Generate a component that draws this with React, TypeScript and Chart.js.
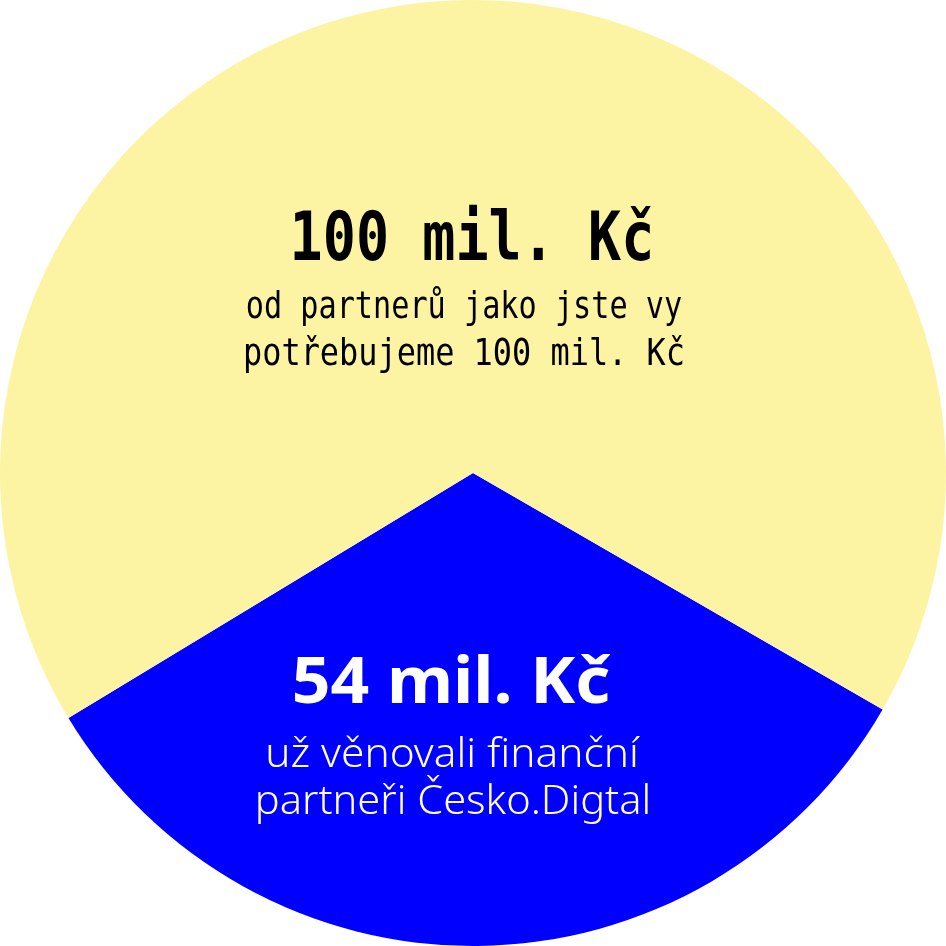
import React, { useEffect, useRef } from "react";
import { Chart, registerables } from "chart.js";

Chart.register(...registerables);

const categories = ["už věnovali finanční partneři", "zbývá získat"];
const values = [33, 67];
const colors = ["#0000ff", "#fdf4a3"];

const yellowTitle = "100 mil. Kč";
const yellowLines = ["od partnerů jako jste vy", "potřebujeme 100 mil. Kč"];
const blueTitle = "54 mil. Kč";
const blueLines = ["už věnovali finanční", "partneři Česko.Digtal"];

type LabelProps = {
  text: string;
  cx: number;
  baseline: number;
  family: string;
  size: number;
  weight: number;
  color: string;
  asc: number;
  desc: number;
  sx: number;
};

function Label(p: LabelProps) {
  const lh = (p.asc + p.desc) * p.size;
  return (
    <div
      style={{
        position: "absolute",
        left: p.cx - 500,
        width: 1000,
        top: p.baseline - p.asc * p.size,
        height: lh,
        lineHeight: lh + "px",
        textAlign: "center",
        fontFamily: p.family,
        fontSize: p.size,
        fontWeight: p.weight,
        color: p.color,
        whiteSpace: "nowrap",
        transform: `scaleX(${p.sx})`,
        transformOrigin: "50% 50%",
        pointerEvents: "none",
      }}
    >
      {p.text}
    </div>
  );
}

export default function App() {
  const ref = useRef<HTMLCanvasElement | null>(null);
  useEffect(() => {
    if (!ref.current) return;
    const chart = new Chart(ref.current, {
      type: "pie",
      data: {
        labels: categories,
        datasets: [
          {
            data: values,
            backgroundColor: colors,
            borderWidth: 0,
          },
        ],
      },
      options: {
        animation: false,
        responsive: false,
        rotation: 120,
        layout: { padding: 0 },
        plugins: { legend: { display: false }, tooltip: { enabled: false } },
      },
    });
    return () => chart.destroy();
  }, []);

  const mono = "'DejaVu Sans Mono', monospace";
  const noto = "'Noto Sans', Lato, sans-serif";
  return (
    <div style={{ position: "fixed", left: 0, top: 0, width: 946, height: 946, background: "#fff", overflow: "hidden" }}>
      <canvas ref={ref} width={946} height={946} style={{ position: "absolute", left: 0, top: 0, width: 946, height: 946 }} />
      <Label text={yellowTitle} cx={471.5} baseline={260} family={mono} size={68} weight={700} color="#000" asc={0.928} desc={0.236} sx={0.81} />
      <Label text={yellowLines[0]} cx={464} baseline={318} family={mono} size={38} weight={400} color="#000" asc={0.928} desc={0.236} sx={0.795} />
      <Label text={yellowLines[1]} cx={464} baseline={365} family={mono} size={38} weight={400} color="#000" asc={0.928} desc={0.236} sx={0.84} />
      <Label text={blueTitle} cx={451} baseline={703} family={noto} size={64} weight={700} color="#fff" asc={1.069} desc={0.293} sx={1.06} />
      <Label text={blueLines[0]} cx={452} baseline={768} family={noto} size={40} weight={300} color="#fff" asc={1.069} desc={0.293} sx={1.06} />
      <Label text={blueLines[1]} cx={453} baseline={815} family={noto} size={40} weight={300} color="#fff" asc={1.069} desc={0.293} sx={1.04} />
    </div>
  );
}
